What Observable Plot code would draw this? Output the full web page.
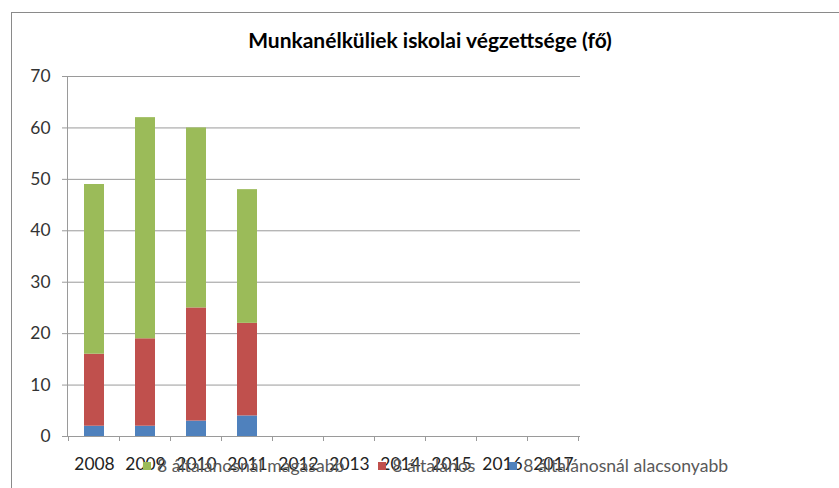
<!DOCTYPE html>
<html><head><meta charset="utf-8">
<script src="https://cdn.jsdelivr.net/npm/d3@7"></script>
<script src="https://cdn.jsdelivr.net/npm/@observablehq/plot@0.6"></script>
<style>
body{margin:0;background:#fff;}
#wrap{position:relative;width:839px;height:488px;overflow:hidden;font-family:Lato,"Open Sans",sans-serif;}
#border{position:absolute;left:11px;top:12px;width:900px;height:600px;border-left:1.5px solid #8a8a8a;border-top:1.5px solid #8a8a8a;box-sizing:border-box;}
#chart{position:absolute;left:0;top:0;}
#title{position:absolute;left:0;top:27px;width:860px;text-align:center;font-weight:bold;font-size:21px;color:#000;}
#legend{position:absolute;left:143px;top:455px;display:flex;align-items:center;font-size:17.6px;color:#595959;white-space:nowrap;}
#legend .item{display:flex;align-items:center;margin-right:34px;}
#legend .sw{width:8px;height:8px;margin-right:6px;}
</style>
</head><body>
<div id="wrap">
  <div id="border"></div>
  <div id="chart"></div>
  <div id="title"></div>
  <div id="legend"></div>
</div>
<script>
const chartTitle = "Munkanélküliek iskolai végzettsége (fő)";
const years = ["2008","2009","2010","2011","2012","2013","2014","2015","2016","2017"];
const dataYears = ["2008","2009","2010","2011"];
const seriesNames = ["8 általánosnál alacsonyabb","8 általános","8 általánosnál magasabb"];
const alacsonyabb = [2, 2, 3, 4];
const altalanos = [14, 17, 22, 18];
const magasabb = [33, 43, 35, 26];
const seriesColors = ["#4F81BD","#C0504D","#9BBB59"];
const legendOrder = ["8 általánosnál magasabb","8 általános","8 általánosnál alacsonyabb"];
const yTicks = [0,10,20,30,40,50,60,70];

const seriesValues = [alacsonyabb, altalanos, magasabb];
const rows = [];
dataYears.forEach((y, i) => {
  seriesNames.forEach((s, j) => rows.push({year: y, series: s, value: seriesValues[j][i]}));
});

const plot = Plot.plot({
  width: 839,
  height: 488,
  marginLeft: 67,
  marginRight: 259,
  marginTop: 76,
  marginBottom: 52,
  style: {fontFamily: "Lato, 'Open Sans', sans-serif", fontSize: "17.4px", background: "transparent", overflow: "visible"},
  x: {domain: years, paddingInner: 0.6, paddingOuter: 0.3, label: null},
  y: {domain: [0, 70], label: null},
  color: {domain: seriesNames, range: seriesColors},
  marks: [
    Plot.gridY(yTicks, {stroke: "#9a9a9a", strokeOpacity: 1, strokeWidth: 1}),
    Plot.barY(rows, {x: "year", y: "value", fill: "series", order: seriesNames}),
    Plot.frame({anchor: "left", stroke: "#9a9a9a", strokeOpacity: 1}),
    Plot.ruleY([0], {stroke: "#9a9a9a"}),
    Plot.axisY(yTicks, {tickSize: 5, tickPadding: 12, stroke: "#9a9a9a", fill: "#333", label: null}),
    Plot.axisX({tickSize: 0, tickPadding: 21, fill: "#222", label: null})
  ]
});
document.getElementById("chart").appendChild(plot);

// category-boundary tick marks on the x axis (Excel style)
const xs = plot.scale("x");
const y0 = plot.scale("y").apply(0);
const svg = d3.select(plot);
const bounds = years.map(y => xs.apply(y) + xs.bandwidth / 2 - xs.step / 2);
bounds.push(bounds[bounds.length - 1] + xs.step);
svg.append("g").selectAll("line").data(bounds).join("line")
  .attr("x1", d => d).attr("x2", d => d)
  .attr("y1", y0).attr("y2", y0 + 5)
  .attr("stroke", "#9a9a9a");

document.getElementById("title").textContent = chartTitle;
const lg = d3.select("#legend");
legendOrder.forEach(name => {
  const it = lg.append("div").attr("class", "item");
  it.append("div").attr("class", "sw").style("background", seriesColors[seriesNames.indexOf(name)]);
  it.append("span").text(name);
});
</script>
</body></html>
